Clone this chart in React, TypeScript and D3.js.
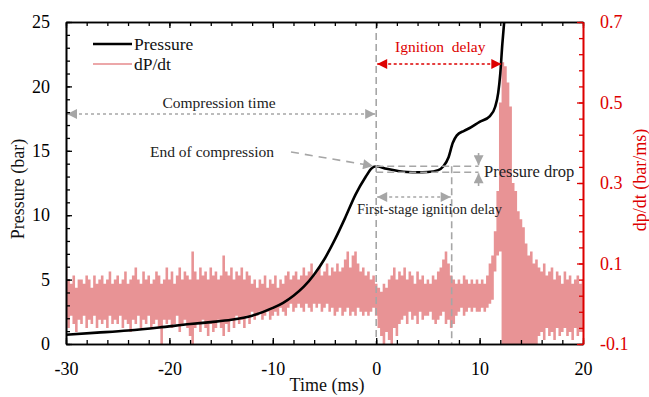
import * as d3 from 'd3';
import { useRef, useEffect } from 'react';

// axis ticks
const timeTicks = [-30, -20, -10, 0, 10, 20];
const pressureTicks = [0, 5, 10, 15, 20, 25];
const rateTicks = [-0.1, 0.1, 0.3, 0.5, 0.7];

// pressure trace (ms, bar)
const pressureTime = [
  -30, -27, -24, -21, -18, -16, -14, -12, -10, -9, -8, -7, -6, -5, -4, -3, -2, -1, -0.5, 0,
  1, 2, 3, 4, 5, 6, 6.5, 7, 7.4, 7.8, 8.5, 9, 10, 11, 11.5, 11.8, 12, 12.2, 12.4, 12.6,
];
const pressureValue = [
  0.72, 0.88, 1.05, 1.28, 1.55, 1.7, 1.88, 2.2, 2.8, 3.2, 3.75, 4.45, 5.4, 6.6, 8.1, 9.8, 11.6, 13.0, 13.6, 13.8,
  13.6, 13.45, 13.35, 13.33, 13.35, 13.5, 13.8, 14.5, 15.6, 16.2, 16.55, 16.75, 17.25, 17.7, 18.4, 19.5, 21, 23.3, 25.2, 27,
];

// dP/dt band, sampled every 0.25 ms from -30 ms (bar/ms)
const rateStart = -30;
const rateStep = 0.25;
const rateUpper = [
  0.10, 0.06, 0.05, 0.07, 0.04, 0.06, 0.06, 0.05, 0.07, 0.06, 0.04, 0.07, 0.05, 0.06, 0.07, 0.05, 0.06, 0.08, 0.05, 0.06,
  0.07, 0.05, 0.06, 0.08, 0.05, 0.06, 0.07, 0.09, 0.06, 0.05, 0.08, 0.06, 0.07, 0.05, 0.06, 0.08, 0.07, 0.05, 0.06, 0.09,
  0.06, 0.08, 0.05, 0.07, 0.09, 0.06, 0.08, 0.07, 0.06, 0.13, 0.08, 0.06, 0.09, 0.07, 0.08, 0.06, 0.09, 0.07, 0.08, 0.06,
  0.07, 0.12, 0.08, 0.07, 0.09, 0.06, 0.08, 0.07, 0.09, 0.06, 0.08, 0.07, 0.05, 0.06, 0.04, 0.06, 0.05, 0.07, 0.04, 0.06,
  0.05, 0.07, 0.04, 0.06, 0.05, 0.07, 0.08, 0.06, 0.07, 0.08, 0.06, 0.07, 0.09, 0.07, 0.08, 0.10, 0.07, 0.08, 0.09, 0.07,
  0.08, 0.10, 0.07, 0.09, 0.08, 0.10, 0.08, 0.09, 0.11, 0.13, 0.09, 0.12, 0.13, 0.10, 0.08, 0.09, 0.07, 0.08, 0.06, 0.07,
  0.05, 0.04, 0.03, 0.05, 0.04, 0.06, 0.07, 0.09, 0.06, 0.08, 0.07, 0.09, 0.06, 0.08, 0.07, 0.05, 0.08, 0.06, 0.07, 0.05,
  0.06, 0.05, 0.07, 0.06, 0.08, 0.09, 0.11, 0.13, 0.10, 0.07, 0.06, 0.05, 0.06, 0.05, 0.07, 0.06, 0.05, 0.06, 0.05, 0.06,
  0.05, 0.06, 0.05, 0.07, 0.10, 0.12, 0.18, 0.28, 0.50, 0.60, 0.59, 0.55, 0.49, 0.30, 0.28, 0.23, 0.21, 0.19, 0.15, 0.12,
  0.13, 0.10, 0.11, 0.09, 0.08, 0.10, 0.07, 0.08, 0.09, 0.06, 0.08, 0.07, 0.05, 0.08, 0.06, 0.07, 0.05, 0.06, 0.07, 0.05, 0.06,
];
const rateLower = [
  -0.04, -0.06, -0.03, -0.05, -0.07, -0.04, -0.05, -0.03, -0.06, -0.04, -0.05, -0.03, -0.06, -0.04, -0.05, -0.04, -0.06, -0.03, -0.05, -0.04,
  -0.05, -0.03, -0.06, -0.04, -0.05, -0.07, -0.04, -0.05, -0.03, -0.06, -0.04, -0.05, -0.03, -0.06, -0.05, -0.04, -0.06, -0.10, -0.04, -0.05,
  -0.04, -0.06, -0.05, -0.03, -0.07, -0.05, -0.04, -0.06, -0.08, -0.10, -0.06, -0.05, -0.07, -0.04, -0.06, -0.08, -0.05, -0.07, -0.06, -0.04,
  -0.06, -0.08, -0.05, -0.07, -0.04, -0.06, -0.03, -0.05, -0.04, -0.06, -0.03, -0.05, -0.02, -0.04, -0.03, -0.02, -0.04, -0.03, -0.02, -0.04,
  -0.03, -0.02, -0.03, -0.01, -0.02, -0.03, -0.01, 0.00, -0.02, -0.01, 0.00, -0.01, -0.02, 0.00, -0.01, -0.02, 0.00, -0.01, 0.00, -0.02,
  -0.01, 0.00, -0.02, -0.01, -0.03, -0.02, -0.01, -0.03, -0.02, -0.01, -0.03, -0.02, -0.03, -0.01, -0.02, -0.03, -0.02, -0.03, -0.02, -0.01,
  -0.03, -0.06, -0.08, -0.10, -0.07, -0.09, -0.10, -0.06, -0.08, -0.05, -0.04, -0.03, -0.05, -0.02, -0.04, -0.03, -0.05, -0.02, -0.04, -0.03,
  -0.03, -0.02, -0.04, -0.05, -0.04, -0.03, -0.02, -0.05, -0.04, -0.06, -0.05, -0.03, -0.02, -0.01, -0.03, -0.02, -0.01, -0.02, -0.01, -0.02,
  -0.02, -0.01, -0.02, -0.01, 0.00, 0.01, 0.08, 0.12, 0.13, -0.10, -0.10, -0.10, -0.10, -0.10, -0.10, -0.10, -0.10, -0.10, -0.10, -0.10,
  -0.10, -0.10, -0.10, -0.08, -0.07, -0.09, -0.06, -0.08, -0.07, -0.09, -0.06, -0.08, -0.07, -0.06, -0.08, -0.07, -0.09, -0.06, -0.08, -0.07, -0.07,
];

const width = 649;
const height = 397;
const margin = { top: 22, right: 66, bottom: 53, left: 66 };
const font = '"Liberation Serif", "Times New Roman", serif';
const red = '#dd0000';
const pink = '#e68a8c';
const gray = '#a6a6a6';

const App = () => {
  const ref = useRef<SVGSVGElement>(null);

  useEffect(() => {
    if (!ref.current) return;
    const svg = d3.select(ref.current);
    svg.selectAll('*').remove();

    const x = d3.scaleLinear().domain([-30, 20]).range([margin.left, width - margin.right]);
    const y = d3.scaleLinear().domain([0, 25]).range([height - margin.bottom, margin.top]);
    const y2 = d3.scaleLinear().domain([-0.1, 0.7]).range([height - margin.bottom, margin.top]);
    const [x0, x1] = x.range();
    const [yb, yt] = y.range();

    const defs = svg.append('defs');
    defs.append('clipPath').attr('id', 'plot')
      .append('rect').attr('x', x0).attr('y', yt).attr('width', x1 - x0).attr('height', yb - yt);
    const marker = (id: string, color: string, w: number, h: number) => {
      defs.append('marker').attr('id', id)
        .attr('viewBox', '0 0 10 10').attr('refX', 10).attr('refY', 5)
        .attr('markerUnits', 'userSpaceOnUse').attr('markerWidth', w).attr('markerHeight', h)
        .attr('orient', 'auto-start-reverse')
        .append('path').attr('d', 'M0,0L10,5L0,10Z').attr('fill', color);
    };
    marker('arGray', gray, 11, 10);
    marker('arRed', red, 11, 10);

    const plot = svg.append('g').attr('clip-path', 'url(#plot)');

    // dP/dt band
    const rate = rateUpper.map((u, i) => ({ t: rateStart + i * rateStep, hi: u, lo: rateLower[i] }));
    plot.append('path').datum(rate)
      .attr('fill', pink).attr('fill-opacity', 0.92)
      .attr('d', d3.area<{ t: number; hi: number; lo: number }>()
        .x(d => x(d.t)).y0(d => y2(d.lo)).y1(d => y2(d.hi)).curve(d3.curveStep));

    // guide lines
    const g = svg.append('g').attr('fill', 'none').attr('stroke', gray).attr('stroke-width', 1.6);
    g.append('line').attr('x1', x(0)).attr('x2', x(0)).attr('y1', yt).attr('y2', yb).attr('stroke-dasharray', '7,4');
    g.append('line').attr('x1', x(7.3)).attr('x2', x(7.3)).attr('y1', y(13.8)).attr('y2', yb).attr('stroke-dasharray', '7,4');
    g.append('line').attr('x1', x(0)).attr('x2', x(9.9)).attr('y1', y(13.8)).attr('y2', y(13.8)).attr('stroke-dasharray', '7,4');
    g.append('line').attr('x1', x(0)).attr('x2', x(9.9)).attr('y1', y(13.33)).attr('y2', y(13.33)).attr('stroke-dasharray', '7,4');

    // compression time arrow
    g.append('line').attr('x1', x(-30) + 1).attr('x2', x(0) - 1).attr('y1', 114).attr('y2', 114)
      .attr('stroke-dasharray', '3,3').attr('marker-start', 'url(#arGray)').attr('marker-end', 'url(#arGray)');
    // end of compression arrow
    g.append('line').attr('x1', 291).attr('y1', 152).attr('x2', x(-0.3)).attr('y2', y(13.75) - 1)
      .attr('stroke-dasharray', '8,6').attr('marker-end', 'url(#arGray)');
    // first-stage arrow
    g.append('line').attr('x1', x(0) + 1).attr('x2', x(7.3) - 1).attr('y1', 197).attr('y2', 197)
      .attr('stroke-dasharray', '3,3').attr('marker-start', 'url(#arGray)').attr('marker-end', 'url(#arGray)');
    // pressure drop arrows
    g.append('line').attr('x1', x(9.9)).attr('x2', x(9.9)).attr('y1', 153).attr('y2', y(13.8) - 1)
      .attr('marker-end', 'url(#arGray)');
    g.append('line').attr('x1', x(9.9)).attr('x2', x(9.9)).attr('y1', 186).attr('y2', y(13.33) + 1)
      .attr('marker-end', 'url(#arGray)');

    // pressure trace
    const pressure = pressureTime.map((t, i) => ({ t, p: pressureValue[i] }));
    plot.append('path').datum(pressure)
      .attr('fill', 'none').attr('stroke', '#000').attr('stroke-width', 2.6)
      .attr('d', d3.line<{ t: number; p: number }>().x(d => x(d.t)).y(d => y(d.p)).curve(d3.curveMonotoneX));

    // ignition delay arrow
    svg.append('line').attr('x1', x(0) + 1).attr('x2', x(12.1)).attr('y1', 64).attr('y2', 64)
      .attr('stroke', red).attr('stroke-width', 1.6).attr('stroke-dasharray', '3,2.5')
      .attr('marker-start', 'url(#arRed)').attr('marker-end', 'url(#arRed)');

    // annotation text
    const label = (tx: string, px: number, py: number, size: number, color = '#222', anchor = 'start') =>
      svg.append('text').attr('x', px).attr('y', py).attr('font-family', font).attr('font-size', size)
        .attr('fill', color).attr('text-anchor', anchor).text(tx);
    label('Compression time', 219, 108, 15.5, '#222', 'middle');
    label('End of compression', 150, 157, 15.5);
    label('Ignition\u00a0 delay', 395, 52, 15.5, red);
    label('Pressure drop', 484, 177, 16.5);
    label('First-stage ignition delay', 357, 214, 14.5);

    // legend
    svg.append('line').attr('x1', 93).attr('x2', 132).attr('y1', 44).attr('y2', 44).attr('stroke', '#000').attr('stroke-width', 2.6);
    svg.append('line').attr('x1', 93).attr('x2', 132).attr('y1', 64).attr('y2', 64).attr('stroke', pink).attr('stroke-width', 1.6);
    label('Pressure', 134, 50, 17.5, '#111');
    label('dP/dt', 134, 70, 17.5, '#111');

    // axes
    const style = (sel: d3.Selection<SVGGElement, unknown, null, undefined>, color: string, size = 18) => {
      sel.selectAll('path').attr('stroke', color).attr('stroke-width', 1.6);
      sel.selectAll('line').attr('stroke', color).attr('stroke-width', 1.3);
      sel.selectAll('text').attr('font-family', font).attr('font-size', size).attr('fill', color);
    };
    const minorX = d3.range(-30, 20.01, 2);
    const minorY = d3.range(0, 25.01, 1);
    const minorY2 = d3.range(0, 21).map(i => -0.1 + i * 0.04);

    const bottomMinor = svg.append('g').attr('transform', `translate(0,${yb})`)
      .call(d3.axisBottom(x).tickValues(minorX).tickFormat(() => '').tickSizeInner(-4).tickSizeOuter(0));
    style(bottomMinor, '#000');
    const bottom = svg.append('g').attr('transform', `translate(0,${yb})`)
      .call(d3.axisBottom(x).tickValues(timeTicks).tickFormat(d3.format('d')).tickSizeInner(-6).tickSizeOuter(0).tickPadding(18));
    style(bottom, '#000');

    const topMinor = svg.append('g').attr('transform', `translate(0,${yt})`)
      .call(d3.axisTop(x).tickValues(minorX).tickFormat(() => '').tickSizeInner(-4).tickSizeOuter(0));
    style(topMinor, '#000');
    const top = svg.append('g').attr('transform', `translate(0,${yt})`)
      .call(d3.axisTop(x).tickValues(timeTicks).tickFormat(() => '').tickSizeInner(-6).tickSizeOuter(0));
    style(top, '#000');

    const leftMinor = svg.append('g').attr('transform', `translate(${x0},0)`)
      .call(d3.axisLeft(y).tickValues(minorY).tickFormat(() => '').tickSizeInner(-4).tickSizeOuter(0));
    style(leftMinor, '#000');
    const left = svg.append('g').attr('transform', `translate(${x0},0)`)
      .call(d3.axisLeft(y).tickValues(pressureTicks).tickFormat(d3.format('d')).tickSizeInner(-6).tickSizeOuter(0).tickPadding(16));
    style(left, '#000');

    const rightMinor = svg.append('g').attr('transform', `translate(${x1},0)`)
      .call(d3.axisRight(y2).tickValues(minorY2).tickFormat(() => '').tickSizeInner(-4).tickSizeOuter(0));
    style(rightMinor, red);
    const right = svg.append('g').attr('transform', `translate(${x1},0)`)
      .call(d3.axisRight(y2).tickValues(rateTicks).tickFormat(d3.format('.1f')).tickSizeInner(-6).tickSizeOuter(0).tickPadding(17));
    style(right, red);
    right.selectAll('text').text(d => (d as number) < 0 ? `-${Math.abs(d as number).toFixed(1)}` : (d as number).toFixed(1));
    bottom.selectAll('text').text(d => `${d}`.replace('\u2212', '-'));

    // axis titles
    svg.append('text').attr('transform', 'translate(24,189) rotate(-90)')
      .attr('text-anchor', 'middle').attr('font-family', font).attr('font-size', 18).attr('fill', '#111')
      .text('Pressure (bar)');
    svg.append('text').attr('transform', 'translate(646,180) rotate(-90)')
      .attr('text-anchor', 'middle').attr('font-family', font).attr('font-size', 18).attr('fill', red)
      .text('dp/dt (bar/ms)');
    label('Time (ms)', 327, 391, 18, '#111', 'middle');
  }, []);

  return (
    <svg ref={ref} width={width} height={height}
      style={{ position: 'absolute', left: 0, top: 0, background: '#fff' }} />
  );
};

export default App;
